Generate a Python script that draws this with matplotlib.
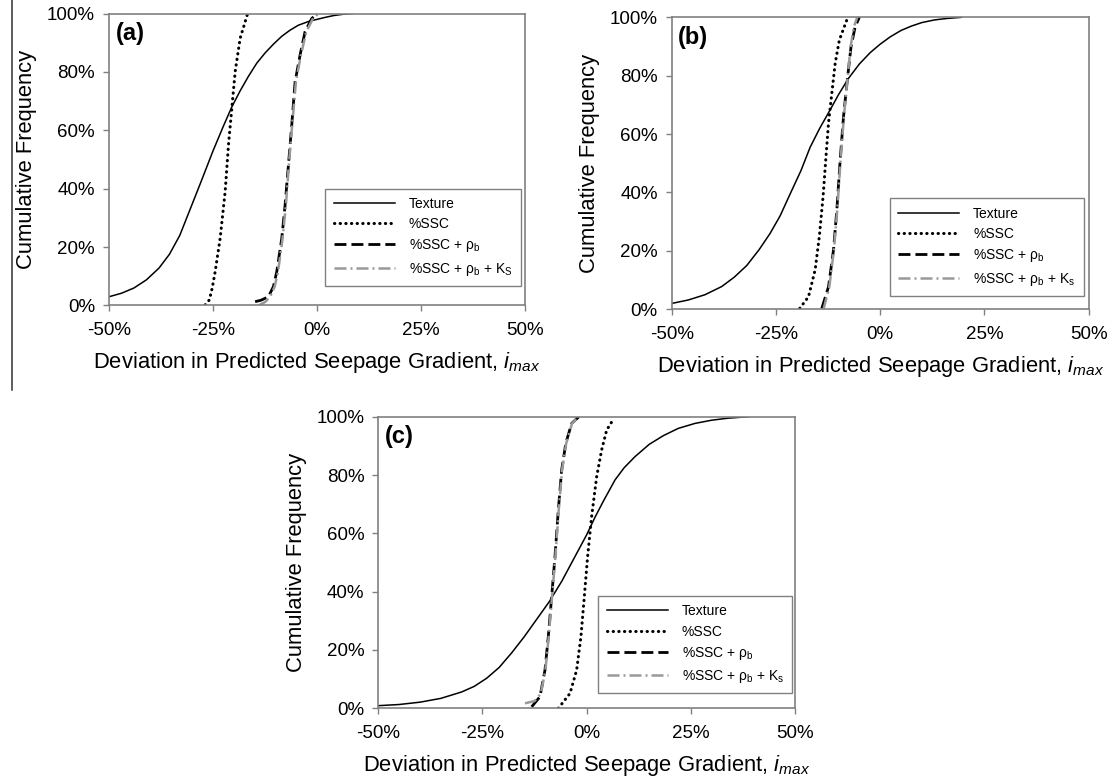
import matplotlib
matplotlib.use("Agg")
import matplotlib.pyplot as plt
from matplotlib.lines import Line2D

plt.rcParams['font.family'] = ['Liberation Sans', 'DejaVu Sans']
plt.rcParams['mathtext.fontset'] = 'custom'
plt.rcParams['mathtext.rm'] = 'Liberation Sans'
plt.rcParams['mathtext.it'] = 'Liberation Sans:italic'
plt.rcParams['mathtext.bf'] = 'Liberation Sans:bold'

# ---------------- data (percent units) ----------------
x_ticks = [-50, -25, 0, 25, 50]
x_tick_labels = ['-50%', '-25%', '0%', '25%', '50%']
y_ticks = [0, 20, 40, 60, 80, 100]
y_tick_labels = ['0%', '20%', '40%', '60%', '80%', '100%']
panel_labels = ['(a)', '(b)', '(c)']
series_names = ['Texture', '%SSC', '%SSC + ρ$_\\mathrm{b}$']
ks_labels = ['%SSC + ρ$_\\mathrm{b}$ + K$_\\mathrm{S}$',
             '%SSC + ρ$_\\mathrm{b}$ + K$_\\mathrm{s}$',
             '%SSC + ρ$_\\mathrm{b}$ + K$_\\mathrm{s}$']

# Panel (a)
a_tex_x = [-50, -47, -44, -41, -38, -35.5, -33, -30.5, -28, -25, -22.5, -20.5, -18.5, -16.5,
           -14.5, -12.5, -10.5, -8.5, -6.5, -4.5, -2, 0, 2, 4, 6, 8.5]
a_tex_y = [3.0, 4.2, 6.0, 8.8, 12.8, 17.5, 24, 33, 42, 53, 61.5, 68, 73.5, 78.5,
           83, 86.5, 89.5, 92.2, 94.3, 96, 97.3, 98.0, 98.7, 99.3, 99.7, 100]
a_ssc_x = [-26.9, -25.9, -25.2, -24.5, -23.3, -22.1, -21.3, -20.5, -19.7, -18.5, -16.8]
a_ssc_y = [0.2, 1.9, 6, 11.6, 23, 39, 55, 67.5, 80, 91.5, 99.5]
a_rho_x = [-14.9, -13.5, -11.7, -10.5, -9.7, -8.5, -7.7, -6.9, -6.1, -5.3, -4.1, -2.9, -1.3, -0.1]
a_rho_y = [1.3, 1.8, 3, 6.5, 11.6, 23, 34.4, 48.1, 61.8, 76.6, 85.8, 93.8, 98.3, 99.7]
a_ks_x = [-14.1, -12.5, -11.3, -10.2, -9.4, -8.3, -7.5, -6.8, -6.0, -5.1, -3.9, -2.6, -1.0, 0.3]
a_ks_y = [0, 1.2, 3, 6.5, 11.6, 23, 34.4, 48.1, 61.8, 76.6, 85.8, 93.8, 98.3, 100]

# Panel (b)
b_tex_x = [-50, -46, -42, -38, -35, -32, -29, -26.4, -24, -21.6, -19, -16.8, -14.5, -12, -10,
           -7.6, -5, -2.4, 0, 2.4, 5, 7.5, 10, 13, 16, 19.5]
b_tex_y = [2, 3.2, 5.0, 7.8, 11, 15, 20.5, 26, 32, 39.5, 47.5, 55.5, 62, 68.3, 73.5,
           79.1, 84, 87.9, 90.8, 93.3, 95.5, 97, 98.2, 99.1, 99.6, 100]
b_ssc_x = [-19.3, -17.2, -15.6, -14.6, -13.7, -13.0, -12.4, -11.6, -10.8, -9.8, -8.0]
b_ssc_y = [0.3, 4.3, 13.5, 24.9, 38.6, 52.3, 63.7, 74, 84.2, 92.2, 99.1]
b_rho_x = [-14.0, -12.4, -11.2, -10.4, -9.6, -8.8, -7.8, -7.0, -6.0, -5.0]
b_rho_y = [0.3, 7.7, 20.3, 34, 51.1, 66, 79.7, 89.9, 96.8, 100]
b_ks_x = [-13.6, -12.2, -11.1, -10.3, -9.5, -8.7, -7.8, -7.1, -6.3, -5.5]
b_ks_y = [0, 7.7, 20.3, 34, 51.1, 66, 79.7, 89.9, 96.8, 100]

# Panel (c)
c_tex_x = [-50, -45, -40, -35, -30, -27, -24, -21, -18, -15, -12, -9, -6, -3, 0, 2,
           4, 6.8, 9, 11.6, 15, 18.4, 22, 26, 30, 34, 38.9]
c_tex_y = [0.9, 1.3, 2.1, 3.4, 5.6, 7.5, 10.3, 14, 19, 24.5, 30.5, 36.5, 43.5, 51.5, 59.5, 65.5,
           71, 78.3, 82.5, 86.3, 90.5, 93.5, 96, 97.7, 98.8, 99.5, 100]
c_ssc_x = [-6.8, -4.0, -2.4, -1.37, -0.56, 0.23, 1.19, 2.4, 3.6, 4.8, 6.4]
c_ssc_y = [0, 5.1, 13.1, 24.6, 38.3, 52, 65.7, 79.4, 88.6, 95.4, 99.1]
c_rho_x = [-13.2, -11.2, -10.0, -9.2, -8.4, -7.6, -6.8, -6.0, -5.0, -3.6, -1.85]
c_rho_y = [0.5, 4, 13.1, 24.6, 38.3, 52, 68, 81.7, 90.9, 97.7, 100]
c_ks_x = [-14.8, -12.5, -11.0, -9.9, -9.1, -8.3, -7.5, -6.7, -5.9, -4.9, -3.5, -1.9]
c_ks_y = [1.7, 2.5, 5, 13.1, 24.6, 38.3, 52, 68, 81.7, 90.9, 97.7, 100]

panels = [
    (a_tex_x, a_tex_y, a_ssc_x, a_ssc_y, a_rho_x, a_rho_y, a_ks_x, a_ks_y),
    (b_tex_x, b_tex_y, b_ssc_x, b_ssc_y, b_rho_x, b_rho_y, b_ks_x, b_ks_y),
    (c_tex_x, c_tex_y, c_ssc_x, c_ssc_y, c_rho_x, c_rho_y, c_ks_x, c_ks_y),
]

# ---------------- layout ----------------
W, H = 1114, 780
fig = plt.figure(figsize=(W / 100, H / 100), dpi=100)
rects = [
    (109, 305.5, 416.3, 292),
    (671.7, 309.3, 417, 292),
    (378.3, 708.3, 416.7, 291.6),
]
legend_anchor = [(0.52, 0.067), (0.523, 0.046), (0.528, 0.051)]
frame_col = '#808080'

for i, (rect, data) in enumerate(zip(rects, panels)):
    left, bottom, w, h = rect
    ax = fig.add_axes([left / W, 1 - bottom / H, w / W, h / H])
    tx, ty, sx, sy, rx, ry, kx, ky = data
    ax.plot(tx, ty, color='black', lw=1.1, label=series_names[0])
    ax.plot(sx, sy, color='black', lw=2.2, linestyle=(0, (0.1, 1.75)),
            dash_capstyle='round', label=series_names[1])
    ax.plot(rx, ry, color='black', lw=2.0, linestyle=(0, (4.3, 1.8)),
            label=series_names[2])
    ax.plot(kx, ky, color='#999999', lw=1.8, linestyle=(0, (4.8, 1.6, 0.8, 1.6)),
            label=ks_labels[i])
    ax.set_xlim(-50, 50)
    ax.set_ylim(0, 100)
    ax.set_xticks(x_ticks)
    ax.set_xticklabels(x_tick_labels)
    ax.set_yticks(y_ticks)
    ax.set_yticklabels(y_tick_labels)
    for sp in ax.spines.values():
        sp.set_color(frame_col)
        sp.set_linewidth(1.2)
    ax.tick_params(axis='both', direction='out', length=4, width=1.0,
                   color=frame_col, labelsize=13.5, labelcolor='black')
    ax.tick_params(axis='x', pad=8)
    ax.tick_params(axis='y', pad=6)
    ax.set_xlabel(r'Deviation in Predicted Seepage Gradient, $\mathit{i}_{\mathit{max}}$',
                  fontsize=15.8, labelpad=8)
    ax.set_ylabel('Cumulative Frequency', fontsize=15.8, labelpad=7)
    ax.text(0.016, 0.97, panel_labels[i], transform=ax.transAxes,
            fontsize=17, fontweight='bold', va='top', ha='left')
    leg = ax.legend(loc='lower left', bbox_to_anchor=legend_anchor[i],
                    borderaxespad=0, fontsize=10, handlelength=4.4,
                    handletextpad=1.0, borderpad=0.6, labelspacing=0.45,
                    fancybox=False, framealpha=1, edgecolor=frame_col)
    leg.get_frame().set_linewidth(1.0)

# left border line of the source image
fig.add_artist(Line2D([11.7 / W, 11.7 / W], [1, 1 - 390 / H], color='#333333',
                      lw=1.1, transform=fig.transFigure))

fig.savefig('out.png', dpi=100)
